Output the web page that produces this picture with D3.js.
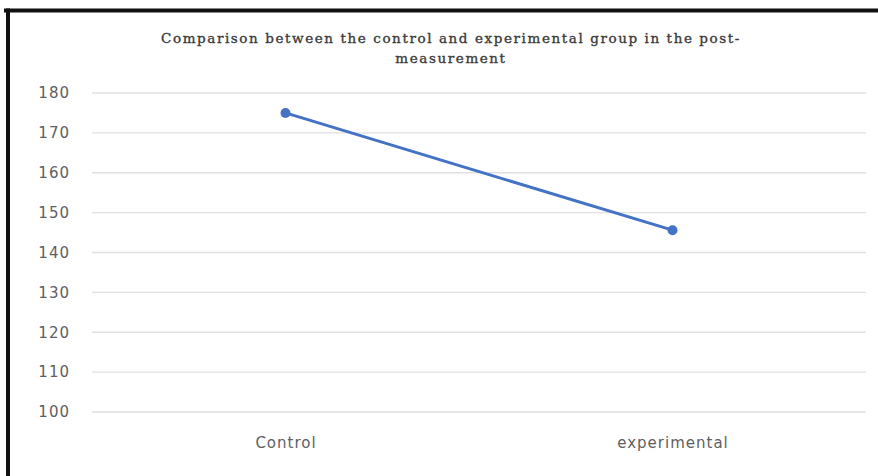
<!DOCTYPE html>
<html>
<head>
<meta charset="utf-8">
<script src="https://cdn.jsdelivr.net/npm/d3@7"></script>
<style>
  body { margin: 0; background: #fff; }
</style>
</head>
<body>
<svg id="chart" width="878" height="476"></svg>
<script>
let groups = ['Control', 'experimental'];
let postValues = [175, 145.6];
let yTicks = [100, 110, 120, 130, 140, 150, 160, 170, 180];
let titleLines = ['Comparison between the control and experimental group in the post-', 'measurement'];

let svg = d3.select('#chart');

// frame (only top and left edges are visible in the picture)
svg.append('line').attr('x1', 4).attr('x2', 878).attr('y1', 10.5).attr('y2', 10.5)
  .attr('stroke', '#111').attr('stroke-width', 4);
svg.append('line').attr('x1', 8).attr('x2', 8).attr('y1', 8.5).attr('y2', 476)
  .attr('stroke', '#111').attr('stroke-width', 4);

let x = d3.scalePoint().domain(groups).range([92, 866]).padding(0.5);
let y = d3.scaleLinear().domain([100, 180]).range([412, 93]);

// gridlines
svg.append('g')
  .selectAll('line')
  .data(yTicks)
  .enter()
  .append('line')
  .attr('x1', 92)
  .attr('x2', 866)
  .attr('y1', d => y(d))
  .attr('y2', d => y(d))
  .attr('stroke', '#e0e0e0')
  .attr('stroke-width', 1.4);

let yAxis = svg.append('g')
  .attr('transform', 'translate(70,0)')
  .call(d3.axisLeft(y).tickValues(yTicks).tickSize(0).tickPadding(0));
yAxis.select('.domain').remove();
yAxis.selectAll('text')
  .attr('font-family', '"DejaVu Sans", sans-serif')
  .attr('font-size', 15)
  .attr('letter-spacing', 1)
  .attr('fill', '#606060');

let xAxis = svg.append('g')
  .attr('transform', 'translate(0,437)')
  .call(d3.axisBottom(x).tickSize(0).tickPadding(0));
xAxis.select('.domain').remove();
xAxis.selectAll('text')
  .attr('font-family', '"DejaVu Sans", sans-serif')
  .attr('font-size', 15)
  .attr('letter-spacing', 1)
  .attr('fill', '#606060');

let line = d3.line()
  .x((d, i) => x(groups[i]))
  .y(d => y(d));

svg.append('path')
  .datum(postValues)
  .attr('d', line)
  .attr('fill', 'none')
  .attr('stroke', '#4472c4')
  .attr('stroke-width', 3)
  .attr('stroke-linecap', 'round');

svg.selectAll('circle.pt')
  .data(postValues)
  .enter()
  .append('circle')
  .attr('class', 'pt')
  .attr('cx', (d, i) => x(groups[i]))
  .attr('cy', d => y(d))
  .attr('r', 5)
  .attr('fill', '#4472c4');

let title = svg.append('text')
  .attr('x', 451)
  .attr('y', 43)
  .attr('text-anchor', 'middle')
  .attr('font-family', '"DejaVu Serif", serif')
  .attr('font-size', 13.5)
  .attr('fill', '#3a3a3a')
  .attr('stroke', '#3a3a3a')
  .attr('stroke-width', 0.35);

title.selectAll('tspan')
  .data(titleLines)
  .enter()
  .append('tspan')
  .attr('x', 451)
  .attr('dy', (d, i) => i === 0 ? 0 : 20)
  .text(d => d);

// widen the title with letter spacing so the first line spans about 580px
let firstLen = title.select('tspan').node().getComputedTextLength();
title.attr('letter-spacing', Math.max(0, (580 - firstLen) / titleLines[0].length));
</script>
</body>
</html>
